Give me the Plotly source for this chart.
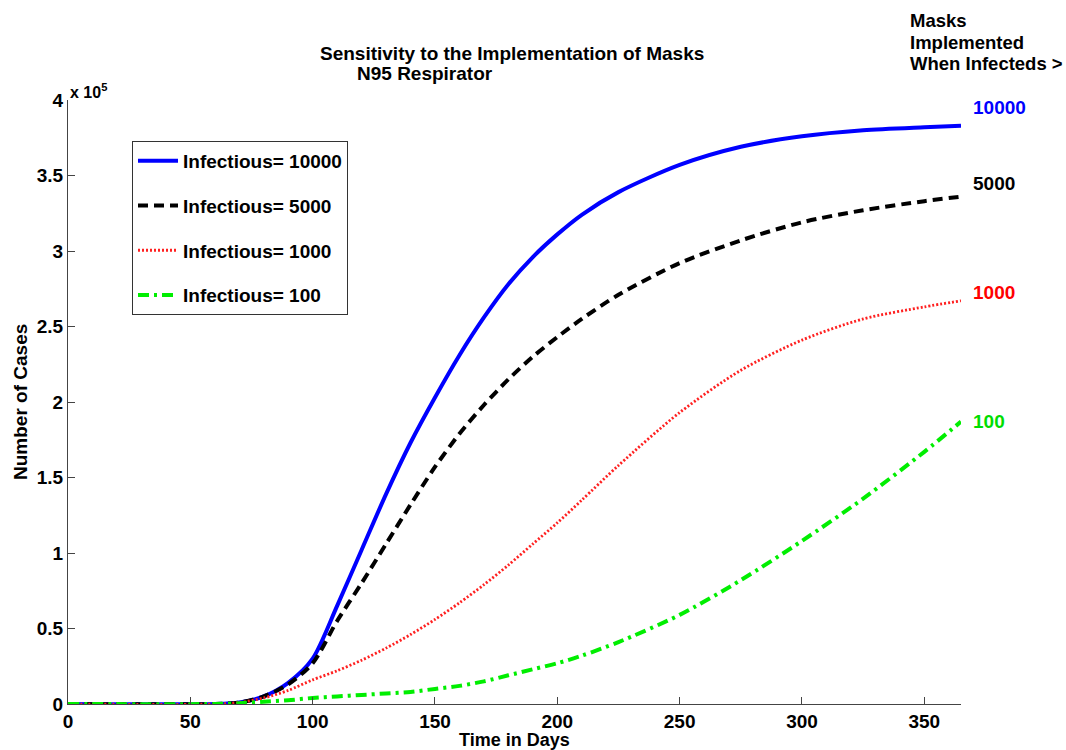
import plotly.graph_objects as go

# ---- data (cases in units of 1e5) ----
days = [0, 60, 70, 80, 90, 100, 110, 120, 130, 140, 150, 160, 170, 180, 190,
        200, 210, 225, 250, 275, 300, 325, 350, 365]
inf_10000 = [0, 0, 0.01, 0.05, 0.14, 0.30, 0.65, 1.02, 1.39, 1.73, 2.03, 2.31, 2.56,
             2.78, 2.96, 3.11, 3.24, 3.39, 3.57, 3.69, 3.76, 3.80, 3.82, 3.83]
inf_5000 = [0, 0, 0.01, 0.05, 0.13, 0.27, 0.55, 0.80, 1.06, 1.32, 1.57, 1.79, 1.98,
            2.15, 2.30, 2.43, 2.55, 2.71, 2.92, 3.07, 3.19, 3.27, 3.33, 3.36]
inf_1000 = [0, 0, 0.01, 0.04, 0.09, 0.16, 0.22, 0.29, 0.37, 0.46, 0.56, 0.67, 0.79,
            0.92, 1.06, 1.20, 1.35, 1.58, 1.93, 2.21, 2.41, 2.55, 2.63, 2.67]
inf_100 = [0, 0, 0.005, 0.015, 0.025, 0.04, 0.05, 0.06, 0.07, 0.08, 0.10, 0.12, 0.15,
           0.19, 0.23, 0.27, 0.32, 0.41, 0.59, 0.82, 1.08, 1.36, 1.67, 1.87]

series_names = ["Infectious= 10000", "Infectious= 5000", "Infectious= 1000", "Infectious= 100"]
end_labels = ["10000", "5000", "1000", "100"]
x_ticks = [0, 50, 100, 150, 200, 250, 300, 350]
y_ticks = [0, 0.5, 1, 1.5, 2, 2.5, 3, 3.5, 4]
y_ticktext = ["0", "0.5", "1", "1.5", "2", "2.5", "3", "3.5", "4"]

W, H = 1066, 750
L, R, T, B = 68, 961, 100, 704


def px(xp):
    return (xp - L) / (R - L)


def py(yp):
    return (B - yp) / (B - T)


FONT = "Liberation Sans, Arial, sans-serif"
FS = 19
styles = [
    dict(color="#0000FF", width=4, dash="solid"),
    dict(color="#000000", width=4, dash="10px,6px"),
    dict(color="#FF2020", width=2.8, dash="2px,2px"),
    dict(color="#00EE00", width=4, dash="11px,5px,3px,5px"),
]
label_colors = ["#0000FF", "#000000", "#FF0000", "#00DD00"]
label_y = [107, 183, 292, 422]

fig = go.Figure()
for i, ys in enumerate([inf_10000, inf_5000, inf_1000, inf_100]):
    fig.add_trace(go.Scatter(x=days, y=ys, mode="lines", name=series_names[i],
                             legendgroup=str(i),
                             line=dict(shape="spline", smoothing=0.8, **styles[i])))

annotations = [
    dict(text="Sensitivity to the Implementation of Masks", x=px(512), y=py(54)),
    dict(text="N95 Respirator", x=px(425), y=py(74)),
    dict(text="Time in Days", x=px(514), y=py(740), size=18),
    dict(text="Number of Cases", x=px(20), y=py(402), textangle=-90),
    dict(text="x 10<sup>5</sup>", x=px(68), y=py(91), xanchor="left", size=16),
    dict(text="Masks", x=px(908), y=py(20), xanchor="left", size=18.5),
    dict(text="Implemented", x=px(908), y=py(42), xanchor="left", size=18.5),
    dict(text="When Infecteds >", x=px(908), y=py(64), xanchor="left", size=18.5),
]
for i, lab in enumerate(end_labels):
    annotations.append(dict(text=lab, x=px(971), y=py(label_y[i]), xanchor="left",
                            color=label_colors[i]))

ann_objs = []
for a in annotations:
    ann_objs.append(dict(
        text=a["text"], x=a["x"], y=a["y"], xref="paper", yref="paper",
        xanchor=a.get("xanchor", "center"), yanchor="middle", showarrow=False,
        textangle=a.get("textangle", 0),
        font=dict(family=FONT, size=a.get("size", FS), weight="bold",
                  color=a.get("color", "black"))))

fig.update_layout(
    width=W, height=H,
    margin=dict(l=L, r=W - R, t=T, b=H - B),
    paper_bgcolor="white", plot_bgcolor="white",
    showlegend=True,
    legend=dict(x=px(132), y=py(141), xanchor="left", yanchor="top",
                bgcolor="white", bordercolor="#333333", borderwidth=1,
                tracegroupgap=17, itemwidth=40,
                font=dict(family=FONT, size=FS, weight="bold", color="black")),
    annotations=ann_objs,
)
fig.update_xaxes(range=[0, 365], tickvals=x_ticks, ticks="inside", ticklen=7,
                 showline=True, linecolor="#444444", linewidth=1, tickcolor="#444444",
                 showgrid=False, zeroline=False, mirror=False,
                 tickfont=dict(family=FONT, size=FS, weight="bold", color="black"))
fig.update_yaxes(range=[0, 4], tickvals=y_ticks, ticktext=y_ticktext, ticks="inside",
                 ticklen=7, showline=True, linecolor="#444444", linewidth=1,
                 tickcolor="#444444", showgrid=False, zeroline=False, mirror=False,
                 tickfont=dict(family=FONT, size=FS, weight="bold", color="black"))

fig.write_html("out.html")
